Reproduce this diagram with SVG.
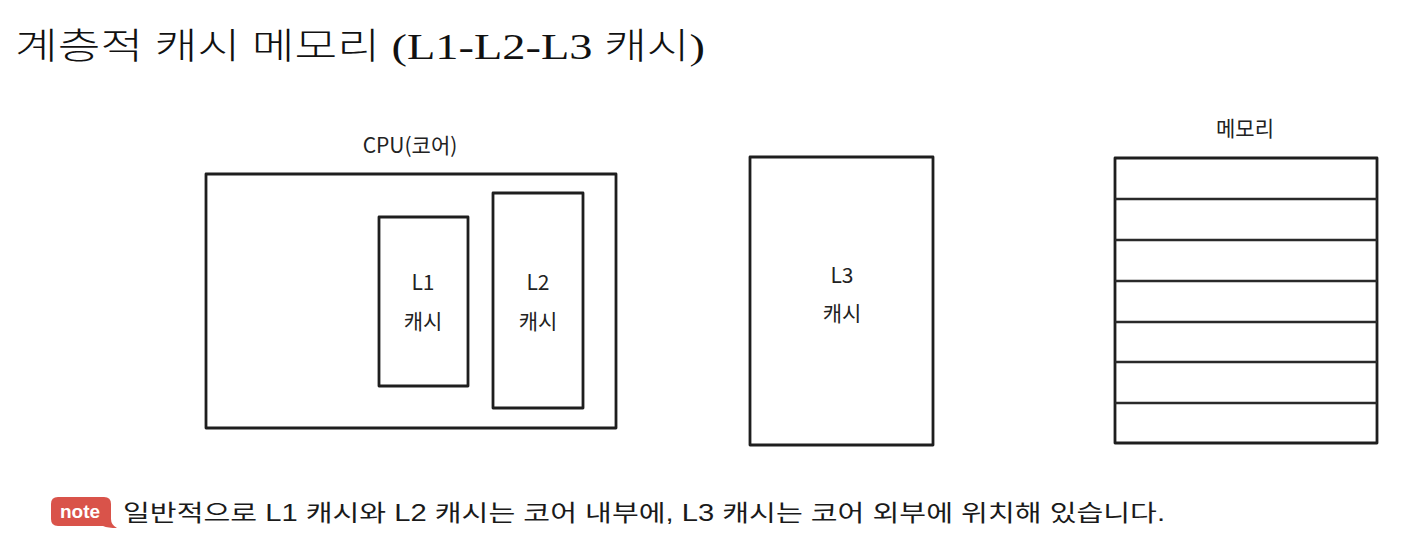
<svg xmlns="http://www.w3.org/2000/svg" width="1410" height="554" viewBox="0 0 1410 554">
<style>
.box{fill:none;stroke:#1e1e1e;stroke-width:2.8;stroke-linejoin:round}
.ln{fill:none;stroke:#2a2a2a;stroke-width:2.3}
.lbl{font-family:"Noto Sans CJK KR","Noto Sans",sans-serif;font-size:21px;fill:#222;text-anchor:middle}
.title{font-family:"Liberation Serif","Noto Sans CJK KR",serif;font-size:36px;fill:#111;font-weight:300}
.note{font-family:"Liberation Sans","Noto Sans CJK KR",sans-serif;font-size:23px;fill:#1a1a1a}
</style>
<rect width="1410" height="554" fill="#ffffff"/>
<g id="title"><text class="title" x="15" y="59" textLength="690" lengthAdjust="spacingAndGlyphs">계층적 캐시 메모리 (L1-L2-L3 캐시)</text></g>
<g id="cpu">
<text class="lbl" x="410" y="153" font-size="22">CPU(코어)</text>
<rect class="box" x="206" y="174" width="410" height="254"/>
</g>
<g id="l1">
<rect class="box" x="379" y="217" width="89" height="169"/>
<text class="lbl" x="423" y="290">L1</text>
<text class="lbl" x="423" y="329">캐시</text>
</g>
<g id="l2">
<rect class="box" x="493" y="193" width="90" height="215"/>
<text class="lbl" x="538" y="290">L2</text>
<text class="lbl" x="538" y="329">캐시</text>
</g>
<g id="l3">
<rect class="box" x="750" y="157" width="183" height="288"/>
<text class="lbl" x="842" y="283">L3</text>
<text class="lbl" x="842" y="321">캐시</text>
</g>
<g id="memory">
<text class="lbl" x="1245" y="136">메모리</text>
<rect class="box" x="1115" y="158" width="262" height="285"/>
<line class="ln" x1="1115" y1="199" x2="1377" y2="199"/>
<line class="ln" x1="1115" y1="240" x2="1377" y2="240"/>
<line class="ln" x1="1115" y1="281" x2="1377" y2="281"/>
<line class="ln" x1="1115" y1="322" x2="1377" y2="322"/>
<line class="ln" x1="1115" y1="362" x2="1377" y2="362"/>
<line class="ln" x1="1115" y1="403" x2="1377" y2="403"/>
</g>
<g id="connectors"></g>
<g id="note">
<path d="M58,497 H104 Q111,497 111,504 V519 Q111,525 117,528 Q108,528 103,526 H58 Q51,526 51,519 V504 Q51,497 58,497 Z" fill="#d9534a"/>
<text x="80" y="518" font-family="Liberation Sans Narrow,Liberation Sans,sans-serif" font-weight="bold" font-size="19" fill="#ffffff" text-anchor="middle">note</text>
<text class="note" x="123" y="521" textLength="1042" lengthAdjust="spacingAndGlyphs">일반적으로 L1 캐시와 L2 캐시는 코어 내부에, L3 캐시는 코어 외부에 위치해 있습니다.</text>
</g>
</svg>
